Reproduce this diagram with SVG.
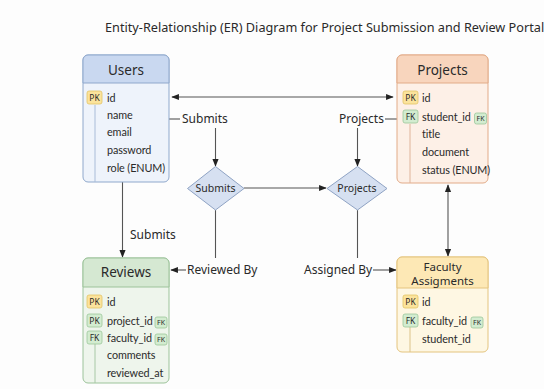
<svg xmlns="http://www.w3.org/2000/svg" width="544" height="389" viewBox="0 0 544 389">
  <defs>
    <marker id="arr" viewBox="0 0 10 10" refX="9" refY="5" markerWidth="7" markerHeight="7" orient="auto-start-reverse">
      <path d="M0,1 L10,5 L0,9 z" fill="#222"/>
    </marker>
    <style>
      text { font-family: "Noto Sans", "Open Sans", sans-serif; fill: #2a2a2a; }
      .title { font-size: 12.7px; }
      .hdr { font-size: 13.5px; text-anchor: middle; }
      .row { font-family: Lato, "Noto Sans", sans-serif; font-size: 10.8px; letter-spacing: -0.1px; }
      .lbl { font-size: 12px; }
      .dlbl { font-size: 10.5px; text-anchor: middle; }
      .badge { font-size: 8.5px; text-anchor: middle; }
      .sbadge { font-size: 7px; text-anchor: middle; }
      .conn { stroke: #555; stroke-width: 1.1; fill: none; }
      .pk { fill: #fbe39c; stroke: #e3c466; stroke-width: 0.8; }
      .fk { fill: #d3ecd0; stroke: #9cc79a; stroke-width: 0.8; }
      .diamond { fill: #d6e0f1; stroke: #8fa3c4; stroke-width: 1; }
      .guide { stroke-width: 1; }
    </style>
  </defs>

  <rect width="544" height="389" fill="#fdfdfd"/>

  <text class="title" x="105" y="32">Entity-Relationship (ER) Diagram for Project Submission and Review Portal</text>

  <!-- Connectors -->
  <g id="connectors">
    <line class="conn" x1="172" y1="97" x2="393" y2="97" marker-start="url(#arr)" marker-end="url(#arr)"/>
    <line class="conn" x1="169" y1="119" x2="180" y2="119"/>
    <line class="conn" x1="215.5" y1="128" x2="215.5" y2="166" marker-end="url(#arr)"/>
    <line class="conn" x1="385" y1="119" x2="397" y2="119"/>
    <line class="conn" x1="357.5" y1="128" x2="357.5" y2="166" marker-end="url(#arr)"/>
    <line class="conn" x1="244" y1="188" x2="326" y2="188" marker-end="url(#arr)"/>
    <line class="conn" x1="215.5" y1="210" x2="215.5" y2="258"/>
    <line class="conn" x1="186" y1="270" x2="171" y2="270" marker-end="url(#arr)"/>
    <line class="conn" x1="357.5" y1="210" x2="357.5" y2="258"/>
    <line class="conn" x1="373" y1="270" x2="396" y2="270" marker-end="url(#arr)"/>
    <line class="conn" x1="122.5" y1="182" x2="122.5" y2="257" marker-end="url(#arr)"/>
    <line class="conn" x1="448" y1="185" x2="448" y2="256" marker-start="url(#arr)" marker-end="url(#arr)"/>
    <text class="lbl" x="182" y="123">Submits</text>
    <text class="lbl" x="339" y="123">Projects</text>
    <text class="lbl" x="130" y="239">Submits</text>
    <text class="lbl" x="187" y="274">Reviewed By</text>
    <text class="lbl" x="304" y="274">Assigned By</text>
  </g>

  <!-- Users -->
  <g id="users">
    <rect x="83" y="55" width="86" height="127" rx="5" fill="#eef3fb" stroke="#8fa8cc"/>
    <path d="M83,83 V60 a5,5 0 0 1 5,-5 H164 a5,5 0 0 1 5,5 V83 z" fill="#c9d8f0" stroke="#8fa8cc"/>
    <text class="hdr" x="126" y="75">Users</text>
    <line class="guide" x1="95" y1="105" x2="95" y2="182" stroke="#a9bcd8"/>
    <rect class="pk" x="87" y="91" width="15" height="13" rx="2"/>
    <text class="badge" x="94.5" y="100.5">PK</text>
    <text class="row" x="107" y="102">id</text>
    <text class="row" x="107" y="119">name</text>
    <text class="row" x="107" y="136">email</text>
    <text class="row" x="107" y="154">password</text>
    <text class="row" x="107" y="172">role (ENUM)</text>
  </g>

  <!-- Projects -->
  <g id="projects">
    <rect x="397" y="55" width="91" height="128" rx="5" fill="#fdf0e7" stroke="#e2ab88"/>
    <path d="M397,83 V60 a5,5 0 0 1 5,-5 H483 a5,5 0 0 1 5,5 V83 z" fill="#f8d5bd" stroke="#e2ab88"/>
    <text class="hdr" x="442.5" y="75">Projects</text>
    <line class="guide" x1="410" y1="124" x2="410" y2="183" stroke="#dfb49a"/>
    <rect class="pk" x="403" y="91" width="15" height="13" rx="2"/>
    <text class="badge" x="410.5" y="100.5">PK</text>
    <rect class="fk" x="403" y="110" width="15" height="13" rx="2"/>
    <text class="badge" x="410.5" y="119.5">FK</text>
    <text class="row" x="422" y="102">id</text>
    <text class="row" x="422" y="121">student_id</text>
    <rect class="fk" x="474.5" y="113" width="12" height="11" rx="2"/>
    <text class="sbadge" x="480.5" y="121">FK</text>
    <text class="row" x="422" y="138">title</text>
    <text class="row" x="422" y="156">document</text>
    <text class="row" x="422" y="174">status (ENUM)</text>
  </g>

  <!-- Submits relationship -->
  <g id="rel-submits">
    <polygon class="diamond" points="215.5,166.5 244,188.5 215.5,210 187.5,188.5"/>
    <text class="dlbl" x="215.5" y="192">Submits</text>
  </g>

  <!-- Projects relationship -->
  <g id="rel-projects">
    <polygon class="diamond" points="357.5,166.5 387,188.5 357.5,210 327,188.5"/>
    <text class="dlbl" x="357" y="192">Projects</text>
  </g>

  <!-- Reviews -->
  <g id="reviews">
    <rect x="83" y="258" width="86" height="125" rx="5" fill="#eef5ec" stroke="#9cc39a"/>
    <path d="M83,287 V263 a5,5 0 0 1 5,-5 H164 a5,5 0 0 1 5,5 V287 z" fill="#d5e8d2" stroke="#9cc39a"/>
    <text class="hdr" x="126" y="277">Reviews</text>
    <line class="guide" x1="95" y1="344" x2="95" y2="383" stroke="#a8c8a6"/>
    <rect class="pk" x="87" y="295" width="15" height="13" rx="2"/>
    <text class="badge" x="94.5" y="304.5">PK</text>
    <rect class="fk" x="87" y="314" width="15" height="13" rx="2"/>
    <text class="badge" x="94.5" y="323.5">PK</text>
    <rect class="fk" x="87" y="331" width="15" height="13" rx="2"/>
    <text class="badge" x="94.5" y="340.5">FK</text>
    <text class="row" x="107" y="306">id</text>
    <text class="row" x="107" y="325">project_id</text>
    <rect class="fk" x="155" y="317" width="12" height="11" rx="2"/>
    <text class="sbadge" x="161" y="325">FK</text>
    <text class="row" x="107" y="342">faculty_id</text>
    <rect class="fk" x="155" y="334" width="12" height="11" rx="2"/>
    <text class="sbadge" x="161" y="342">FK</text>
    <text class="row" x="107" y="359">comments</text>
    <text class="row" x="107" y="377">reviewed_at</text>
  </g>

  <!-- Faculty Assigments -->
  <g id="faculty-assigments">
    <rect x="397" y="257" width="91" height="95" rx="5" fill="#fef7e3" stroke="#e4c47e"/>
    <path d="M397,288 V262 a5,5 0 0 1 5,-5 H483 a5,5 0 0 1 5,5 V288 z" fill="#fde8b5" stroke="#e4c47e"/>
    <text class="hdr" x="442.5" y="270.5" style="font-size:11.5px">Faculty</text>
    <text class="hdr" x="442.5" y="284.5" style="font-size:11.5px">Assigments</text>
    <line class="guide" x1="410" y1="327" x2="410" y2="352" stroke="#dcc389"/>
    <rect class="pk" x="403" y="295" width="15" height="13" rx="2"/>
    <text class="badge" x="410.5" y="304.5">PK</text>
    <rect class="fk" x="403" y="314" width="15" height="13" rx="2"/>
    <text class="badge" x="410.5" y="323.5">FK</text>
    <text class="row" x="422" y="306">id</text>
    <text class="row" x="422" y="325">faculty_id</text>
    <rect class="fk" x="471" y="317" width="12" height="11" rx="2"/>
    <text class="sbadge" x="477" y="325">FK</text>
    <text class="row" x="422" y="343">student_id</text>
  </g>
</svg>
